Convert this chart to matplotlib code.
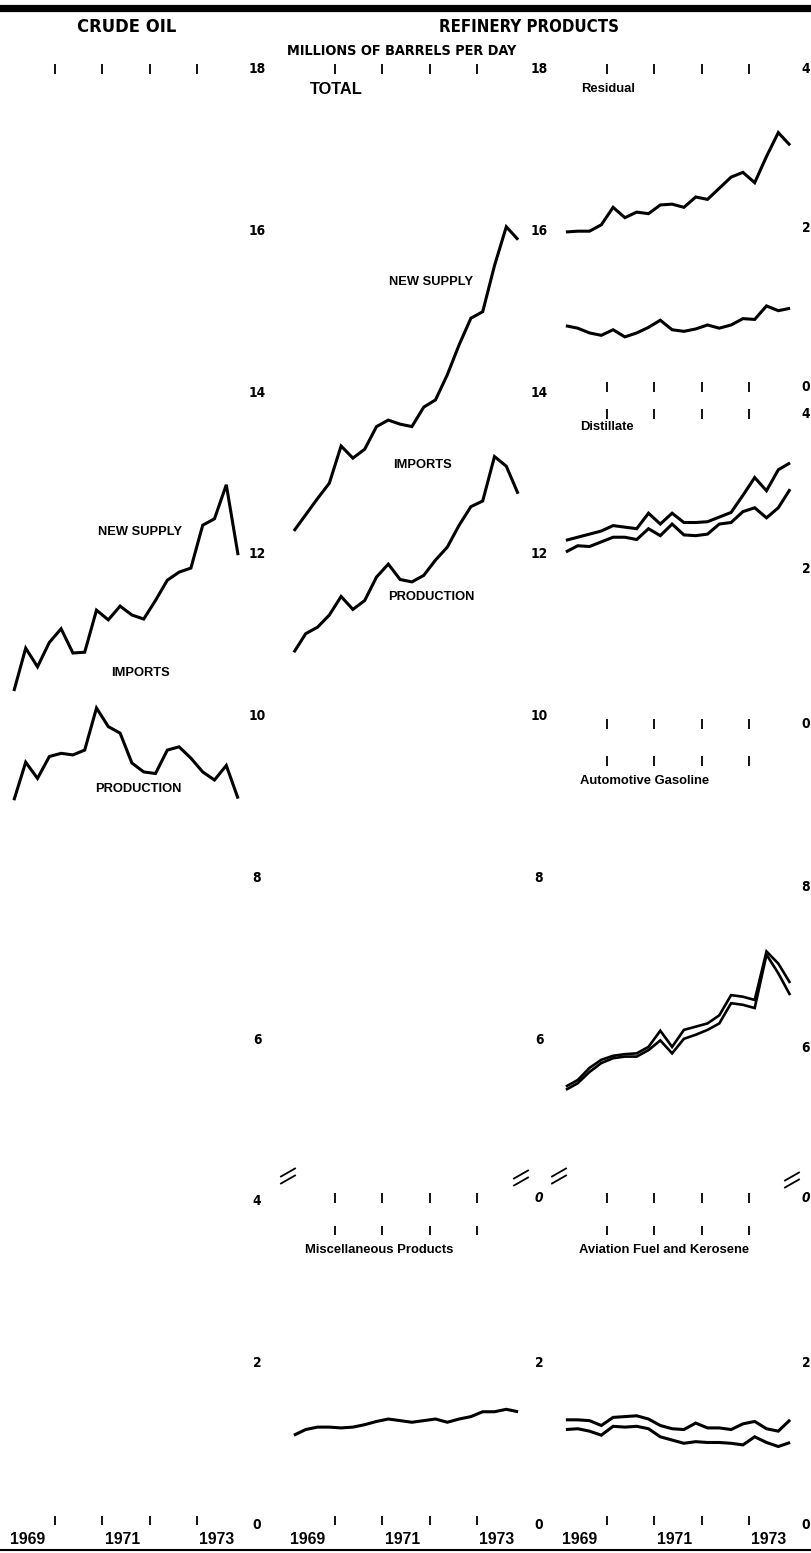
import matplotlib
matplotlib.use("Agg")
import matplotlib.pyplot as plt
from matplotlib import font_manager as fm
from matplotlib.lines import Line2D
import matplotlib.transforms as mtransforms

# ---------------- data (millions of barrels per day) ----------------
QUARTERS = [f"{y}Q{q}" for y in range(1969, 1974) for q in range(1, 5)]
YEAR_TICKS = [1970, 1971, 1972, 1973]
YEAR_LABELS = ["1969", "1971", "1973"]

CRUDE_NEW_SUPPLY = [10.31, 10.84, 10.61, 10.91, 11.08, 10.78, 10.79, 11.31, 11.19, 11.36,
                    11.25, 11.20, 11.43, 11.68, 11.78, 11.83, 12.36, 12.44, 12.86, 11.99]
CRUDE_PRODUCTION = [8.96, 9.43, 9.23, 9.50, 9.54, 9.52, 9.58, 10.10, 9.87, 9.79,
                    9.42, 9.31, 9.29, 9.58, 9.62, 9.48, 9.31, 9.21, 9.39, 8.98]

TOTAL_NEW_SUPPLY = [12.29, 12.49, 12.69, 12.88, 13.34, 13.19, 13.30, 13.58, 13.66, 13.61,
                    13.58, 13.82, 13.91, 14.22, 14.59, 14.92, 15.00, 15.57, 16.05, 15.89]
TOTAL_PRODUCTION = [10.79, 11.02, 11.10, 11.25, 11.48, 11.32, 11.43, 11.72, 11.88, 11.69,
                    11.66, 11.74, 11.93, 12.09, 12.36, 12.59, 12.66, 13.21, 13.09, 12.75]

RESIDUAL_NEW_SUPPLY = [1.95, 1.96, 1.96, 2.04, 2.26, 2.13, 2.20, 2.18, 2.29, 2.30,
                       2.26, 2.39, 2.36, 2.50, 2.64, 2.70, 2.57, 2.90, 3.20, 3.04]
RESIDUAL_PRODUCTION = [0.77, 0.74, 0.68, 0.65, 0.72, 0.63, 0.68, 0.75, 0.84, 0.72,
                       0.70, 0.73, 0.78, 0.74, 0.78, 0.86, 0.85, 1.02, 0.96, 0.99]

DISTILLATE_NEW_SUPPLY = [2.37, 2.41, 2.45, 2.49, 2.56, 2.54, 2.52, 2.72, 2.58, 2.72,
                         2.60, 2.60, 2.61, 2.67, 2.73, 2.95, 3.18, 3.01, 3.28, 3.37]
DISTILLATE_PRODUCTION = [2.22, 2.30, 2.29, 2.35, 2.41, 2.41, 2.38, 2.52, 2.43, 2.58,
                         2.44, 2.43, 2.45, 2.58, 2.60, 2.74, 2.79, 2.66, 2.79, 3.03]

GASOLINE_NEW_SUPPLY = [5.53, 5.61, 5.76, 5.86, 5.91, 5.93, 5.94, 6.02, 6.22, 6.02,
                       6.23, 6.27, 6.31, 6.41, 6.66, 6.64, 6.60, 7.20, 7.05, 6.81]
GASOLINE_PRODUCTION = [5.49, 5.57, 5.71, 5.82, 5.88, 5.90, 5.90, 5.98, 6.10, 5.94,
                       6.12, 6.17, 6.23, 6.31, 6.56, 6.54, 6.50, 7.16, 6.93, 6.66]

MISC_SUPPLY = [1.11, 1.18, 1.21, 1.21, 1.20, 1.21, 1.24, 1.28, 1.31, 1.29,
               1.27, 1.29, 1.31, 1.27, 1.31, 1.34, 1.40, 1.40, 1.43, 1.40]

AVIATION_NEW_SUPPLY = [1.30, 1.30, 1.29, 1.23, 1.33, 1.34, 1.35, 1.31, 1.23, 1.19,
                       1.18, 1.26, 1.20, 1.20, 1.18, 1.25, 1.28, 1.19, 1.16, 1.30]
AVIATION_PRODUCTION = [1.18, 1.19, 1.16, 1.11, 1.22, 1.21, 1.22, 1.19, 1.09, 1.05,
                       1.01, 1.03, 1.02, 1.02, 1.01, 0.99, 1.09, 1.02, 0.97, 1.02]

# quarter labels -> decimal year at mid-quarter
T = [int(s[:4]) + (int(s[-1]) - 0.5) / 4.0 for s in QUARTERS]

# ---------------- fonts ----------------
entries = fm.fontManager.ttflist
names = {e.name for e in entries}
if 'Liberation Sans Narrow' in names:
    NARROW = {'family': 'Liberation Sans Narrow'}
    NS = 1.0
elif 'DejaVu Sans Condensed' in names:
    NARROW = {'family': 'DejaVu Sans Condensed'}
    NS = 0.82
elif any(e.name == 'DejaVu Sans' and e.stretch == 'condensed' for e in entries):
    NARROW = {'family': 'DejaVu Sans', 'fontstretch': 'condensed'}
    NS = 0.82
else:
    NARROW = {'family': 'Liberation Sans'}
    NS = 0.84
BOLD = {'family': 'Liberation Sans', 'fontweight': 'bold'}

W, H = 811, 1553
fig = plt.figure(figsize=(W / 100, H / 100), dpi=100)
fig.patch.set_facecolor('white')

LW = 2.2
TICK_LEN = 6.5
TICK_W = 1.3


def fx(x):
    return x / W


def fy(y):
    return 1 - y / H


def add_ax(x0, x1, y0, y1, ylim, top_ticks=True, bottom_ticks=False, bottom_dir='inout'):
    ax = fig.add_axes([fx(x0), fy(y1), (x1 - x0) / W, (y1 - y0) / H])
    ax.set_xlim(1969, 1974)
    ax.set_ylim(*ylim)
    for s in ax.spines.values():
        s.set_visible(False)
    ax.set_facecolor('none')
    ax.set_yticks([])
    ax.set_xticks(YEAR_TICKS)
    ax.tick_params(axis='x', top=top_ticks, bottom=False, labelbottom=False,
                   labeltop=False, direction='inout', length=TICK_LEN, width=TICK_W)
    ax._box = (x0, x1, y0, y1)
    if bottom_ticks:
        sec = ax.secondary_xaxis('bottom')
        sec.set_xticks(YEAR_TICKS)
        sec.spines['bottom'].set_visible(False)
        sec.tick_params(direction=bottom_dir, length=TICK_LEN, width=TICK_W,
                        labelbottom=False)
    return ax


def frac_y(ax, ypx):
    x0, x1, y0, y1 = ax._box
    return (y1 - ypx) / (y1 - y0)


def frac_x(ax, xpx):
    x0, x1, y0, y1 = ax._box
    return (xpx - x0) / (x1 - x0)


def scale_labels(ax, xpx, values, labels=None, **kw):
    tr = mtransforms.blended_transform_factory(ax.transAxes, ax.transData)
    labels = labels or [str(v) for v in values]
    for v, s in zip(values, labels):
        ax.text(frac_x(ax, xpx), v, s, transform=tr, ha='center', va='center',
                fontsize=12 * NS, fontweight='bold', clip_on=False, **NARROW, **kw)


def extra_tick_row(ax, ypx):
    half = 4.5 / (ax._box[3] - ax._box[2])
    yc = frac_y(ax, ypx)
    ax.vlines(YEAR_TICKS, yc - half, yc + half, transform=ax.get_xaxis_transform(),
              color='black', lw=TICK_W, clip_on=False)


def year_labels(ax, ypx=1540):
    tr = mtransforms.blended_transform_factory(ax.transData, ax.transAxes)
    for s in YEAR_LABELS:
        ax.text(int(s) + 0.42, frac_y(ax, ypx), s, transform=tr, ha='center', va='center',
                fontsize=11.3, clip_on=False, **BOLD)


def ftext(x, y, s, size, **kw):
    fig.text(fx(x), fy(y), s, ha='center', va='center', fontsize=size, **kw)


def line(ax, ys, **kw):
    ax.plot(T, ys, color='black', lw=kw.pop('lw', LW), solid_joinstyle='miter',
            solid_capstyle='butt', clip_on=False, **kw)


PX_PER_UNIT = 80.9

# ---------------- crude oil ----------------
ax_c = add_ax(8, 244, 69, 1525, (0, 18), bottom_ticks=True, bottom_dir='in')
line(ax_c, CRUDE_NEW_SUPPLY)
line(ax_c, CRUDE_PRODUCTION)
scale_labels(ax_c, 257, list(range(18, -1, -2)))
year_labels(ax_c)

# ---------------- refinery products: total ----------------
tot_bottom = 18 - (1178 - 69) / PX_PER_UNIT
ax_t = add_ax(288, 524, 69, 1178, (tot_bottom, 18))
line(ax_t, TOTAL_NEW_SUPPLY)
line(ax_t, TOTAL_PRODUCTION)
scale_labels(ax_t, 539, list(range(18, 5, -2)))

# ---------------- misc products ----------------
low_top = (1525 - 1198) / PX_PER_UNIT
ax_m = add_ax(288, 524, 1198, 1525, (0, low_top), bottom_ticks=True, bottom_dir='in')
line(ax_m, MISC_SUPPLY)
extra_tick_row(ax_m, 1230)
scale_labels(ax_m, 539, [2, 0])
scale_labels(ax_m, 539, [low_top], ['0'], fontstyle='italic')
year_labels(ax_m)

# ---------------- residual ----------------
ax_r = add_ax(560, 796, 69, 387, (0, 4), bottom_ticks=True, bottom_dir='inout')
line(ax_r, RESIDUAL_NEW_SUPPLY)
line(ax_r, RESIDUAL_PRODUCTION)
scale_labels(ax_r, 806, [4, 2, 0])

# ---------------- distillate ----------------
ax_d = add_ax(560, 796, 414, 724, (0, 4), bottom_ticks=True, bottom_dir='inout')
line(ax_d, DISTILLATE_NEW_SUPPLY)
line(ax_d, DISTILLATE_PRODUCTION)
scale_labels(ax_d, 806, [4, 2, 0])

# ---------------- automotive gasoline ----------------
g_top = 8 + (886.7 - 761) / PX_PER_UNIT
g_bot = 8 - (1180 - 886.7) / PX_PER_UNIT
ax_g = add_ax(560, 796, 761, 1180, (g_bot, g_top))
line(ax_g, GASOLINE_NEW_SUPPLY, lw=1.9)
line(ax_g, GASOLINE_PRODUCTION, lw=1.9)
scale_labels(ax_g, 806, [8, 6])

# ---------------- aviation fuel and kerosene ----------------
ax_a = add_ax(560, 796, 1198, 1525, (0, low_top), bottom_ticks=True, bottom_dir='in')
line(ax_a, AVIATION_NEW_SUPPLY)
line(ax_a, AVIATION_PRODUCTION)
extra_tick_row(ax_a, 1230)
scale_labels(ax_a, 806, [2, 0])
scale_labels(ax_a, 806, [low_top], ['0'], fontstyle='italic')
year_labels(ax_a)

# ---------------- texts ----------------
ftext(127, 27, "CRUDE OIL", 16.0 * NS, fontweight='bold', **NARROW)
ftext(529, 27, "REFINERY PRODUCTS", 14.7 * NS, fontweight='bold', **NARROW)
ftext(402, 51, "MILLIONS OF BARRELS PER DAY", 12.6 * NS, fontweight='bold', **NARROW)
ftext(336.5, 89, "TOTAL", 11.8, **BOLD)

SMALL = 9.3
ftext(140, 532, "NEW SUPPLY", SMALL, **BOLD)
ftext(140, 673, "IMPORTS", SMALL, **BOLD)
ftext(138.5, 789, "PRODUCTION", SMALL, **BOLD)
ftext(431, 282, "NEW SUPPLY", SMALL, **BOLD)
ftext(422.5, 465, "IMPORTS", SMALL, **BOLD)
ftext(431.5, 597.5, "PRODUCTION", SMALL, **BOLD)

MIX = 9.4
ftext(608, 89, "Residual", MIX, **BOLD)
ftext(607, 427, "Distillate", MIX, **BOLD)
ftext(644.5, 781, "Automotive Gasoline", MIX, **BOLD)
ftext(379, 1250, "Miscellaneous Products", MIX, **BOLD)
ftext(664, 1250, "Aviation Fuel and Kerosene", MIX, **BOLD)

# ---------------- rules and break marks ----------------
fig.add_artist(Line2D([0, 1], [fy(7.5), fy(7.5)], transform=fig.transFigure,
                      color='black', lw=5.2))
fig.add_artist(Line2D([0, 1], [fy(1550), fy(1550)], transform=fig.transFigure,
                      color='black', lw=1.5))

for xc, yc in [(288, 1176), (521, 1178), (559, 1176), (792, 1180)]:
    for dy in (-3.5, 3.5):
        fig.add_artist(Line2D([fx(xc - 7), fx(xc + 7)],
                              [fy(yc + dy + 4), fy(yc + dy - 4)],
                              transform=fig.transFigure, color='black', lw=1.3))

fig.savefig("out.png", dpi=100, facecolor='white')
